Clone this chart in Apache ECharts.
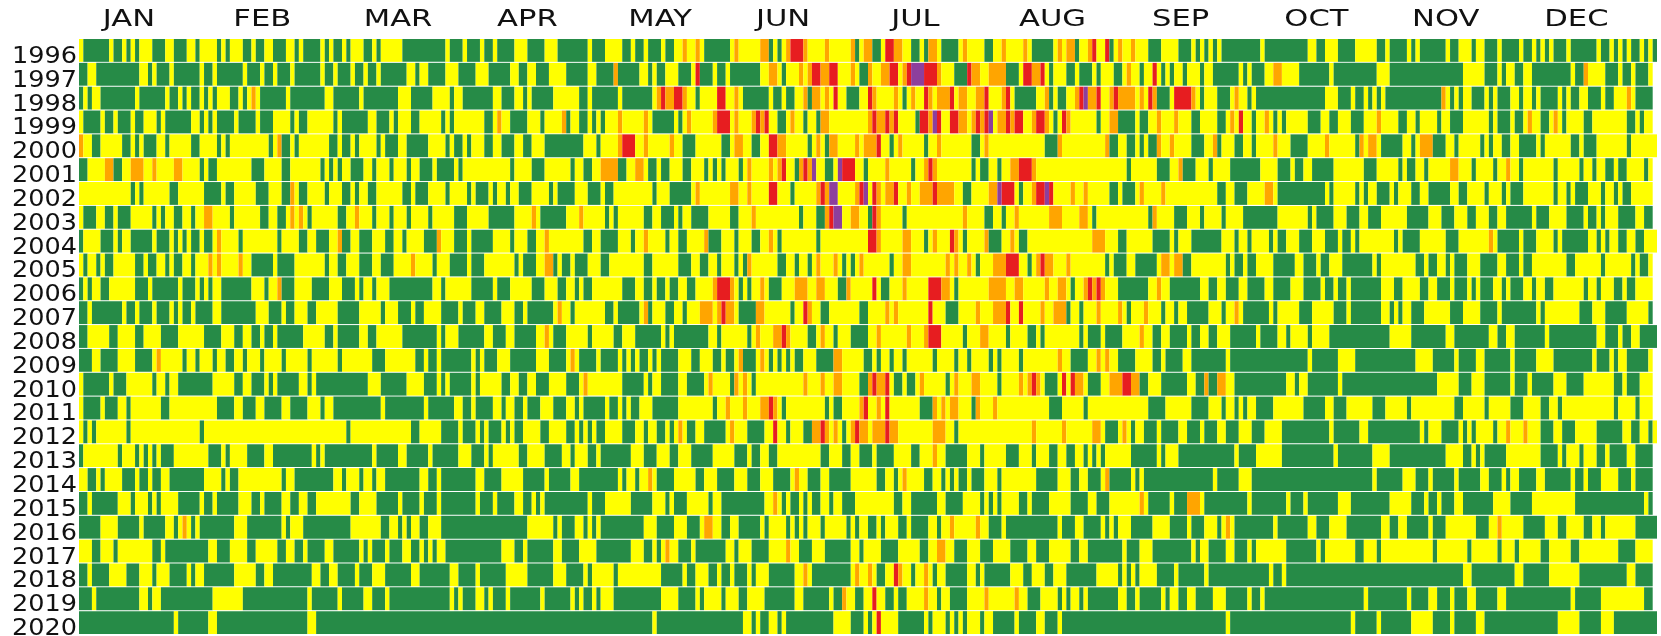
<!DOCTYPE html>
<html>
<head>
<meta charset="utf-8">
<style>
  html, body { margin: 0; padding: 0; background: #fff; }
  #chart { width: 1661px; height: 636px; }
</style>
<script src="https://cdn.jsdelivr.net/npm/echarts@6/dist/echarts.min.js"></script>
</head>
<body>
<div id="chart"></div>
<script>
const years = ['1996','1997','1998','1999','2000','2001','2002','2003','2004','2005','2006','2007','2008','2009','2010','2011','2012','2013','2014','2015','2016','2017','2018','2019','2020']
const months = ['JAN','FEB','MAR','APR','MAY','JUN','JUL','AUG','SEP','OCT','NOV','DEC']
const monthCenters = [11.6, 42.5, 74, 104, 134.8, 163.3, 194, 225.8, 255.5, 287, 317, 347.3]
const levels = ['g', 'y', 'o', 'r', 'p']
const levelColors = ['#268b47', '#ffff00', '#ffa500', '#e71d20', '#8d3f9c']

// each token: level letter + day of year where that level starts
const d1996 = 'y0 g1 y7 g8 y10 g11 y12 g13 y14 g17 y20 g22 y25 g27 y28 g32 y33 g34 y35 g38 y40 g41 y43 g45 y48 g50 y51 g52 y56 g57 y58 g59 y61 g62 y63 g66 y68 g69 y70 g75 y85 g86 y89 g90 y93 g94 y96 g97 y101 g104 y108 g111 y118 g119 y122 g126 y128 g129 y131 g132 y135 g136 y138 o140 y141 o143 y144 g145 y151 o152 y153 o158 g160 y161 g162 y163 o164 r165 o168 y169 o173 y174 o179 g180 y181 o182 g184 y186 r187 o189 y191 g193 y195 g196 o197 y199 g200 y204 o205 y206 g210 y212 o214 y215 o219 y220 g221 y226 o227 y228 o229 g231 y232 o234 r235 y236 r238 g239 y240 o241 y242 o244 y245 g248 y251 g255 y258 g259 y260 g261 y262 g263 y264 g265 y274 g275 y285 g287 y289 g292 y296 g301 y303 g304 y308 g309 y310 g311 y317 g318 y320 g323 y324 g326 y329 g330 y334 g335 y337 g338 y339 g340 y341 g342 y345 g346 y352 g353 y355 g356 y357 g358 y359 g360 y362 g363 y364 g365'
const d1997 = 'g0 y2 g4 y14 g16 y17 g18 y21 g22 y28 g29 y31 g32 y38 g39 y42 g43 y45 g46 y49 g50 y56 g57 y59 g60 y63 g64 y66 g67 y69 g70 y76 g78 y79 g81 y85 g88 y92 g95 y100 g102 y104 g106 y109 g113 y118 g120 o124 g125 y130 g132 y133 g134 y136 g139 y142 r143 g144 y147 g148 y150 g151 y158 o160 y162 g163 y164 o167 y168 o169 r170 o172 r174 y176 o179 y180 g181 o183 y184 o186 r188 y190 o191 r192 p193 r196 o199 y200 g203 r206 o207 y209 o211 g215 y218 r219 o221 r223 y224 g225 y226 g229 y231 g232 y235 g236 y237 g240 y242 o243 y244 g246 y247 r249 y250 g251 y252 g253 y254 g256 y257 g260 y261 g263 y269 g270 y271 g272 y275 o277 y279 g283 y290 g291 y301 g304 y321 g326 y329 g330 y331 g333 y335 g337 y346 g347 o349 y350 g354 y357 g358 y360 g361 y364'
const d1998 = 'g0 y1 g2 y3 g5 y13 g14 y20 g21 y23 g24 y25 g26 y28 g29 y30 g31 y32 g35 y37 g38 y39 o40 y41 g42 y48 g49 y57 g59 y65 g66 y74 g77 y82 g86 y87 g89 y96 g98 y101 g103 y104 g105 y110 g116 y118 g119 y125 g126 y133 o134 r135 o136 r138 o140 y141 g143 y144 r148 y150 o152 y153 g154 y160 g161 y163 g164 y166 o168 g169 o170 y172 o173 y174 r175 y176 g178 y181 r183 o184 y185 o189 y190 g191 y192 o193 y194 r196 o197 y198 o199 r202 y203 o204 y206 o208 r210 y211 o214 r215 y216 g217 y222 o224 g225 y226 g227 y229 o231 r232 p233 o234 r236 y237 o239 r240 o241 y245 o246 y247 r248 o249 g250 y253 r254 o258 y259 g260 y261 g264 y267 o268 y269 g271 y272 g273 y289 g292 y295 g296 y298 g299 y300 g301 y302 g303 o316 y317 g318 y319 g320 y321 g323 y326 g327 y328 g329 y332 g334 y335 g337 y338 g339 y343 g344 y345 g346 y348 g350 y353 g354 y356 o359 y360 g361'
const d1999 = 'y0 g1 y5 g6 y8 g9 y12 g13 y15 g18 y19 g20 y26 g28 y29 g30 y31 g32 y36 g37 y41 g42 y45 g49 y50 g51 y53 g59 y60 g61 y67 g69 y72 g73 y74 g77 y79 g84 y85 g86 y87 g94 y96 o97 y98 g100 y104 g107 y108 o112 g113 y114 g116 y118 g119 y120 g121 y122 o125 y126 o131 y132 g133 y138 g139 y140 o141 y142 o147 r148 y151 o152 y153 o156 r157 o158 r159 y160 g162 y164 o165 y166 g168 y169 g171 o172 y174 o183 r184 o185 r187 o188 r189 y190 g194 r195 o197 p198 r199 y200 r202 o204 y206 o207 r208 o209 r210 p211 y212 o213 r215 o216 r217 y219 o221 r222 o224 y225 g226 y227 r228 o229 y230 g236 y237 o239 g241 y245 g246 y248 o250 y251 o254 y255 g258 y260 g264 y266 o267 y268 r269 y270 g272 y273 o275 y276 g277 y278 g279 y280 g285 y288 g290 y292 g295 y298 o301 y302 g306 y308 g310 y311 g315 y316 g318 y321 g327 y328 g329 y332 g333 y335 o336 y337 g339 y341 o342 y343 g344 y345 g349 y351 g359 y361 g362 y363'
const d2000 = 'o0 y1 g3 y5 g10 y12 g13 y14 g15 y18 g20 y21 g26 y28 g32 y33 g34 y35 g44 y45 o46 g47 y49 g50 y51 g58 y60 g61 y63 g64 y65 g69 y70 g71 y74 g76 y81 g85 y86 g87 y89 g90 y91 g94 y96 g98 y101 g103 y105 g108 y117 g120 y121 o125 r126 y129 o131 y132 o137 y138 g140 y143 g149 y151 o152 y154 g156 y158 r160 o162 y164 g169 y170 o171 y172 g173 o174 y176 o180 y181 o182 r185 y186 g188 y189 o190 y191 g196 y197 o199 y200 g207 y209 o210 y211 g224 o227 y228 o238 g239 y241 g243 y245 g246 y247 g248 o250 y251 o253 y254 g258 y261 o263 g264 y265 g268 y270 g272 y273 o277 y278 g281 y285 o289 y290 g296 o297 y298 o299 y301 g302 y307 g309 y310 o311 g314 y317 g319 y320 g325 y326 g327 y328 g330 y332 g334 y338 g339 y340 g346 y348 g349 y352 g359 y360'
const d2001 = 'g0 y2 o6 g8 y10 o12 y15 o17 y18 o22 y24 g28 y29 g30 y32 g40 y43 g47 y49 g56 y57 g58 y59 g60 y61 g63 y66 g68 y69 g72 y73 g76 y77 g79 y82 g83 y87 g88 y89 g100 y101 g105 y108 g114 y115 g117 y119 o121 g125 y127 o129 y131 g132 y134 g135 y137 g140 y142 g145 y146 g147 y148 g149 y150 g153 y154 o155 y156 o160 y161 o162 r163 y164 g166 o167 r168 o169 p170 y171 g173 y175 p176 r177 y180 g182 y183 o187 y188 g193 y194 o196 r197 o198 y199 g207 y208 g209 y211 g213 y214 o216 r218 o221 y222 g243 y244 g250 y253 o255 g256 y259 g262 y263 g267 y274 g278 y281 g282 y284 g286 y291 g298 y301 g306 y307 g308 y310 g312 y313 o318 y320 g323 y324 g328 y329 o331 y332 g334 y335 g342 y343 g348 y349 g351 y352 g354 y356 g357 y359 g363 y364'
const d2002 = 'y0 g12 y13 g14 y15 g21 y23 g29 y33 g34 y36 g41 y44 g47 o49 y50 g51 y53 g57 y58 g61 y63 g64 y65 g67 y69 g75 y77 g78 y81 g85 y86 g90 y91 g92 y95 g96 y97 g99 y100 g102 y105 g109 y110 g111 y115 g118 y121 g122 y124 g133 y134 g137 y142 o143 y144 o151 y153 o155 y156 r160 y162 g165 y166 o171 r172 o173 p174 y176 o180 r181 p182 y183 r184 o185 y186 o187 r189 y190 o192 y193 o195 r198 o199 y203 g205 y207 o211 p213 r214 y217 g218 y219 o221 r222 p224 r225 y226 o230 y231 o233 y234 g239 y241 g242 y245 o246 y247 o251 y252 g264 y266 g268 y271 o275 y277 g278 y289 g290 y291 g296 y297 g298 y299 g301 y304 g305 y306 g309 y311 g313 y318 g320 y322 g326 y327 g330 y331 g332 y335 g342 y343 g345 y346 g347 y350 g353 y354 g356 y357 g358 y360'
const d2003 = 'y0 g1 y4 g6 y8 g9 y12 g17 y18 g19 y20 g22 y24 g26 y27 o29 y31 g35 y36 g42 y44 g46 y48 o49 y50 o51 y52 g53 y54 g60 y62 o64 y65 g68 y69 g72 y73 g76 y77 g81 y82 g87 y90 g95 y101 o105 y106 g107 y113 o116 y117 g122 y123 g124 y125 g131 y133 g135 y138 g139 y140 g142 y146 g151 y153 o156 y157 g167 y168 g171 o173 r174 p175 y177 o179 y181 g183 r184 o185 y186 g191 y192 o205 y206 g210 y212 g214 y215 o217 y218 o225 y228 o232 y234 g235 y236 g248 o249 y250 g254 y257 g260 y261 g265 y266 g270 y278 g285 y286 g287 y291 g294 y297 g299 y302 g308 y313 g316 y319 g322 y324 g327 y329 g331 y337 g338 y341 g345 y349 g350 y352 g353 y354 g357 y361 g363'
const d2004 = 'g0 y1 g5 y8 g9 y10 g12 y17 g18 y21 g22 y23 g24 y25 g26 y28 g29 y31 o32 y33 g37 y38 g46 y47 g51 y53 g55 y58 o60 g61 y63 g65 y68 g71 y73 g75 y76 g80 o83 y84 g87 y90 g91 y96 g100 y101 g104 y106 o108 y109 g117 y119 g121 y125 g128 y129 o131 y132 g136 y137 g139 y141 o145 g146 y149 g152 y153 g156 y158 o160 y161 g162 y163 g171 y172 r183 o185 y186 o191 y193 g196 y197 o198 y199 r202 o203 y204 g205 y206 o210 g211 y214 o216 y217 g218 y220 o235 y238 g241 y243 g249 y253 g254 y255 g258 y265 g268 y269 g271 y272 g276 y277 g278 y280 g283 y286 g289 y292 g293 y295 g296 y297 g305 y306 g307 y311 g317 y320 o327 y328 g329 y334 g335 y338 g342 y343 g344 y350 g352 y353 g354 y355 g357 y359 g361 y363'
const d2005 = 'y0 g1 y2 g4 y5 g6 y8 g13 y15 g16 y18 g20 y21 g22 y24 g26 y27 o30 y31 o32 y33 o37 y38 g40 y45 g46 y50 g57 y58 g60 y62 g65 y68 g70 y73 o77 y78 g82 y83 g86 y90 g91 y94 g101 y102 g103 y106 o108 g110 y111 g112 y114 g115 y118 g121 y123 g131 y133 g139 y142 g144 y146 g148 y149 g152 y153 g154 o155 y156 g162 y164 g166 y167 g169 y170 o171 y172 o175 y176 g177 y178 g179 y180 o181 y182 g188 y189 o191 y193 o201 y202 o203 y204 o206 y207 g208 y209 o212 r215 y218 g220 y221 o222 r223 o224 y226 o229 y230 g238 y239 g240 y243 g245 y250 o251 y253 o254 g256 y258 g266 y267 g268 y270 g271 y273 g277 y282 g284 y287 g288 y290 g293 y300 g301 y302 g310 y312 g313 y315 g317 y318 g319 y322 g325 y329 g331 y334 g335 y337 g345 y347 g353 y354 g360 y361 g362 y364'
const d2006 = 'g0 y1 g2 y3 g5 y7 g13 y16 g17 y23 g24 y27 g28 y29 g30 y31 g33 y40 g43 y44 o46 g47 y50 g54 y58 g61 y64 g65 y66 g68 y69 g72 y82 g84 y85 g91 y96 g97 y100 g105 y108 g111 y113 g115 y116 g117 y119 g126 y129 g131 y133 g134 y136 g137 y139 g141 y143 o147 r148 o151 y152 g153 y154 g155 y156 o158 y159 g160 y163 o166 y169 o171 y173 g176 o178 y179 r184 y185 g186 y188 o191 y192 r197 o200 y202 g203 y204 o211 y215 o217 y219 o224 y225 o227 y229 g230 y231 o233 r234 o235 r236 o237 y238 g241 y248 o250 y251 g253 y260 g262 y264 g266 y269 g271 y275 g277 y281 g284 y288 g289 y291 g292 y294 g295 y302 g305 y307 g311 y313 g315 y318 g319 y322 g323 y324 g325 y328 g330 y331 g332 y335 g337 y338 g340 y342 g349 y350 g352 y353 g356 y358 g359 y361'
const d2007 = 'g0 y2 g3 y10 g11 y13 g14 y17 g18 y21 g22 y23 g24 y26 g27 y31 g33 y41 g44 y47 g48 y50 g53 y55 g60 y65 g70 y71 g74 y77 g78 y80 g84 y88 g89 y92 g94 y98 g101 y103 g104 y110 o111 y112 g114 y115 g122 y124 g125 y130 o131 g132 y133 g136 y138 g140 y141 o144 y147 o148 r149 o150 y152 g153 o157 y159 g165 y166 r168 o169 y170 g172 y174 g181 y183 o187 y188 o189 y190 r197 y198 g201 y204 o208 y209 o212 r215 y216 r218 y219 o223 y224 o226 g229 y230 g232 y233 o236 y237 o241 y242 g243 y244 o247 y248 g251 y252 g254 y255 g257 y262 g265 y266 o268 y269 g270 y276 g277 y278 g283 y286 g291 y294 g295 y302 g304 y305 g306 y307 g309 y312 g318 y321 g325 y329 g330 y338 g339 y340 g348 y351 g354 y359 g364'
const d2008 = 'g0 y2 g7 y9 g13 y15 g19 y23 g29 y33 g36 y38 g40 y42 g43 y45 g46 y52 g57 y59 g60 y65 g67 y69 g75 y83 g84 y85 g88 y94 g96 y99 g101 y106 o108 y109 g110 y113 g118 y119 g124 y126 g129 y135 g136 y137 g138 y146 g148 y149 g155 y156 o157 y158 o161 r163 o164 y165 g169 y171 o172 y173 g175 y176 g179 y183 o185 y186 o192 y193 o196 r197 y200 g205 y206 o209 y211 g215 y216 g220 y222 g223 y224 g232 y233 g234 y237 g238 y242 o246 y247 g249 y251 g253 y257 g258 y260 g262 y264 g267 y273 g274 y278 g280 y281 g285 y286 g290 y304 g309 y317 g319 y327 g329 y331 g333 y340 g341 y352 g354 y357 g358 y360 g362'
const d2009 = 'g0 y3 g5 y9 g13 y17 o18 y19 g24 y25 g27 y28 g31 y32 g34 y36 g38 y39 g42 y43 g47 y48 g53 y54 g60 y61 g68 y71 g78 y80 g81 y83 g84 y91 g92 y93 g94 y97 g100 y106 g109 y113 o114 y115 g116 y120 g121 y125 g126 y127 g128 y129 g130 y132 g133 y134 g135 y139 g142 y144 g147 y149 g150 y152 o153 g154 y157 o158 y159 g160 y161 g162 y163 g164 y165 g166 y168 g171 o175 y177 g182 y184 g185 y186 g188 y189 g191 y192 g198 y199 g203 y204 g206 y207 g211 y212 g213 y214 g218 y219 o227 y228 g230 y234 o236 y237 o238 y239 g241 y245 g249 y251 g252 y256 g258 y266 g267 y285 g286 y292 g296 y310 g314 y319 g320 y324 g326 y332 g333 y338 g342 y351 g352 y355 g356 y357 g359 y364'
const d2010 = 'y0 g1 y7 g8 y11 g17 y18 g20 y21 g23 y31 g36 y38 g40 y43 g44 y45 g46 y51 g53 y54 g55 y67 g70 y76 g80 y83 g84 y85 g86 y91 g92 y93 g98 y100 g102 y104 g106 y109 g113 y116 o117 y118 g126 y131 g132 y133 g135 y139 g141 y145 o146 y147 g151 o152 y153 o154 y155 g156 y157 o168 y169 o172 y173 o175 y177 g181 o183 r184 o185 r187 y188 g189 y191 g192 y194 o195 y196 g201 y202 o203 y204 o207 y209 g213 y214 o218 y219 o220 r221 o222 y223 g224 y227 r228 y229 r230 o231 y233 g234 y237 o239 r242 o244 g246 y248 g251 y257 g259 o261 g262 o264 y266 g268 y280 g282 y283 g285 y292 g293 y315 g320 y323 g326 y332 g333 y336 g337 y342 g345 y349 g356 y358 g359 y362'
const d2011 = 'y0 g1 y5 g6 y9 g11 y12 g19 y21 g32 y36 g38 y41 g43 y47 g49 y53 g56 y57 g59 y70 g71 y80 g81 y87 g89 y91 g92 y96 g98 y99 g101 y103 g104 y107 g110 y113 g115 y116 g117 y122 g123 y125 g126 y127 g128 y130 g133 y139 g147 y148 o150 y151 o154 y155 o158 r160 o161 y162 g163 y164 g173 y174 g175 y177 o181 r182 y183 o185 y186 r187 y188 g195 o198 y199 o200 y201 o202 y204 g207 o208 y209 o212 y213 g225 y228 g233 y234 g248 y252 g258 y262 g265 y266 g268 y269 g270 y271 g273 y277 g284 y289 g291 y294 g300 y303 g308 y309 g319 y321 g326 y327 g332 y335 g339 y341 g343 y344 g356 y357 g361 y362'
const d2012 = 'y0 g1 y2 g3 y4 g11 y12 g28 y29 g62 y63 g77 y79 g84 y88 g89 y92 g93 y94 g95 y98 g99 y100 g101 y103 g107 y109 g113 y115 g116 y117 g118 y119 g120 y122 g126 y129 g131 y132 g134 y136 g137 y138 o139 y140 g141 y143 g145 y150 o151 y152 g155 y159 r161 y162 g164 y165 g168 o170 r172 o173 y174 o175 y176 g177 y178 o179 r180 o181 y183 o184 r187 o188 y190 o198 y201 g203 y204 o221 y222 o228 y229 o235 y237 g238 y241 o242 y243 g244 y245 g247 y250 g251 y255 g257 y260 g261 y264 g266 y269 g272 y275 g279 y290 g291 y297 g299 y311 g312 y313 g316 y320 g321 y322 g323 y324 g328 y329 o331 y332 o335 y336 g339 y342 g344 y347 g352 y358 g360 y362 g364 y365'
const d2013 = 'g0 y1 g9 y10 g13 y14 g15 y16 g17 y18 g19 y22 g30 y33 g34 y35 g39 y43 g45 y54 g55 y56 g57 y68 g69 y74 g76 y81 g82 y88 g91 y94 g95 y96 g102 y104 g108 y112 g114 y115 g118 y120 g121 y128 g131 y134 g137 y139 g142 y147 g152 y155 g156 y158 g160 y162 g172 y174 g177 y179 g181 y184 g185 y189 g193 y195 o198 y199 g201 y206 g209 y210 g215 y218 g221 y222 g225 y227 g229 y231 g233 y234 g235 y236 g237 y238 g244 y250 g251 y252 g255 y268 g269 y273 g279 y291 g292 y300 g304 y317 g321 y323 g324 y325 g326 y331 g339 y343 g344 y345 g348 y349 g352 y354 g355 y359 g361'
const d2014 = 'y0 g2 y4 g5 y6 g10 y13 g14 y16 g17 y19 g21 y29 g33 y34 g35 y37 g47 y48 g50 y59 g61 y62 g65 y66 g68 y69 g71 y79 g81 y83 g84 y92 g94 y98 g103 y108 g109 y114 g116 y125 g126 y127 g129 y130 o132 y133 g134 y138 g143 y145 g148 y152 g155 y158 g161 y165 o166 y167 g169 y172 g174 y179 g185 y187 g189 y190 o191 y192 g196 y198 g200 y201 g202 y203 g204 y206 g207 y210 g213 y214 g222 y227 g230 y232 g234 y237 o238 g239 y244 g245 y246 g247 y263 g264 y269 g272 y300 g301 y307 g310 y313 g314 y319 g320 y325 g327 y330 g331 y332 g334 y338 g340 y346 g347 y349 g350 y353 g357 y360 g361'
const d2015 = 'g0 y2 g3 y9 g12 y13 g16 y17 g18 y19 g23 y28 g29 y31 g32 y37 g40 y42 g43 y47 g49 y51 g53 y55 g63 y65 g69 y74 g75 y79 g80 y83 g84 y92 g93 y96 g97 y101 g103 y105 g106 y107 g108 y118 g119 y122 g128 y133 g136 y137 g138 y141 g146 y147 g149 y159 o161 y162 g163 y164 g165 y167 g168 y169 g170 y172 g174 y175 g177 y180 g189 y191 g193 y199 g201 y205 g209 y210 g211 y212 g213 y214 g218 y220 g221 y225 g230 y234 g236 y239 o246 y247 g248 y253 g254 o257 y260 g261 y271 g272 y280 g281 y284 g285 y292 g295 y304 g309 y312 g313 y315 g316 y319 g321 y328 g332 y337 g347 y363 g364'
const d2016 = 'g0 y5 g9 y14 g15 y20 g22 y23 o24 y25 g26 y27 g28 y36 g39 y47 g48 y49 g52 y63 g70 y72 g74 y75 g76 y77 g79 y81 g84 y104 g110 y111 g112 y115 g117 y118 g119 y120 g121 y131 g134 y138 g141 y144 o145 y147 g149 y151 g153 y158 g159 y160 g164 y165 g166 y167 g168 y169 g172 y173 g178 y179 g180 y181 g183 y185 g186 y187 g190 y192 g193 y197 g199 y200 o202 y203 o208 y209 g211 y214 g215 y227 g228 y231 g233 y237 g238 y239 g240 y241 g244 y249 g253 y257 g258 y261 g264 y265 o266 y267 g268 y277 g278 y285 g287 y290 g294 y302 g304 y306 g308 y313 g314 y317 g324 y327 o329 y330 g335 y340 g343 y345 g349 y351 g353 y354 g361'
const d2017 = 'y0 g3 y5 g8 y9 g17 y19 g20 y30 g32 y35 g39 y41 g46 y48 g50 y52 g53 y57 g59 y65 g66 y67 g68 y71 g72 y75 g77 y79 g80 y81 g82 y83 g85 y98 g101 y103 g104 y110 g112 y116 g120 y128 g131 y133 g134 y135 o136 y137 g139 y142 g143 y150 g152 y153 g156 y160 o164 y165 g167 y170 g173 y179 g181 y182 g186 y190 g195 y197 o199 y201 g203 y206 g209 y212 g216 y220 g222 y225 g230 y232 g234 y242 g243 y246 g249 y258 g259 y260 g262 y266 g268 y271 g272 y273 g280 y287 g288 y289 g296 y298 g301 y302 g314 y315 g322 y323 g329 y330 g333 y334 g339 y341 g346 y348 g357 y361'
const d2018 = 'g0 y2 g3 y7 g11 y14 g17 y18 g21 y25 g26 y27 g29 y36 g41 y43 g45 y54 g56 y58 g60 y64 g65 y68 g71 y77 g79 y86 g88 y92 g93 y99 g104 y110 g113 y117 g118 y119 g124 y125 g135 y140 g141 y143 g146 y148 g149 y151 g152 y155 g156 y157 g160 y166 o168 y169 g170 y179 o180 y181 o183 y184 g185 y187 r189 o190 y191 g193 y194 o196 y197 g198 y199 g201 y206 g208 y209 g210 y216 g219 y221 g224 y226 g229 y236 g241 y242 g243 y244 g245 y246 g250 y254 g255 y261 g262 y276 g277 y279 g280 y321 g323 y333 g335 y341 g348 y359 g361'
const d2019 = 'g0 y3 g4 y14 g16 y17 g19 y31 g38 y53 g54 y60 g61 y66 g68 y71 g72 y86 g87 y88 g89 y92 g94 y95 g96 y99 g100 y107 g108 y114 g115 y116 g117 y119 g120 y121 g124 y135 g139 y143 g144 y145 g149 y150 g153 y155 g159 y166 g168 y174 g175 o177 y178 g180 y182 r184 y185 g187 y189 g190 y192 o196 y197 g199 y200 g202 y206 o210 y211 o217 y218 g220 y223 g227 y228 g229 y230 g232 y233 g234 y241 g243 y245 g246 y251 g252 y253 g255 y257 g259 y263 g266 y271 g272 y274 g275 y298 g299 y308 g309 y313 g315 y318 g319 y322 g324 y329 g331 y346 g347 y353 g363'
const d2020 = 'g0 y22 g23 y30 g32 y53 g55 y133 g134 y154 g156 y157 g158 y160 g162 y163 g164 y175 g179 y182 g183 y184 r185 y186 g190 y196 g197 y198 g201 y202 g203 y204 g205 y206 g209 y210 g212 y217 g218 y222 g224 y227 g228 y266 g267 y295 g296 y301 g302 y309 g314 y318 g319 y324 g326 y343 g348 y353 g356'

const rows = [d1996, d1997, d1998, d1999, d2000, d2001, d2002, d2003, d2004, d2005, d2006, d2007, d2008, d2009, d2010, d2011, d2012, d2013, d2014, d2015, d2016, d2017, d2018, d2019, d2020]

const runs = []
rows.forEach((row, r) => {
  const tokens = row.split(' ')
  const leap = Number(years[r]) % 4 === 0
  tokens.forEach((t, i) => {
    const start = Number(t.slice(1))
    const end = i + 1 < tokens.length ? Number(tokens[i + 1].slice(1)) : (leap ? 366 : 365)
    runs.push([start, end, r, levels.indexOf(t[0])])
  })
})

const chart = echarts.init(document.getElementById('chart'), null, { renderer: 'canvas' })

chart.setOption({
  animation: false,
  backgroundColor: '#ffffff',
  grid: { left: 79, right: 4, top: 39, bottom: 1 },
  xAxis: { type: 'value', min: 0, max: 366, show: false },
  yAxis: {
    type: 'category',
    data: years,
    inverse: true,
    axisLine: { show: false },
    axisTick: { show: false },
    splitLine: { show: false },
    axisLabel: { show: false }
  },
  series: [
    {
      type: 'custom',
      data: runs,
      encode: { x: [0, 1], y: 2 },
      renderItem(params, api) {
        const a = api.coord([api.value(0), api.value(2)])
        const b = api.coord([api.value(1), api.value(2)])
        const h = api.size([0, 1])[1]
        return {
          type: 'rect',
          shape: { x: a[0], y: a[1] - h / 2, width: b[0] - a[0], height: h - 1 },
          style: { fill: levelColors[api.value(3)] }
        }
      }
    },
    {
      // month names sit above the first row, stretched wide like the original
      type: 'custom',
      data: monthCenters.map((d, i) => [d, i]),
      encode: { x: 0 },
      silent: true,
      renderItem(params, api) {
        const p = api.coord([api.value(0), 0])
        return {
          type: 'text',
          x: p[0],
          y: p[1] - 31,
          scaleX: 1.33,
          style: {
            text: months[api.value(1)],
            fill: '#111111',
            font: '23px "DejaVu Sans"',
            align: 'center',
            verticalAlign: 'middle'
          }
        }
      }
    },
    {
      // year labels, right aligned against the grid
      type: 'custom',
      data: years.map((y, i) => [0, i]),
      encode: { x: 0, y: 1 },
      silent: true,
      renderItem(params, api) {
        const p = api.coord([0, api.value(1)])
        return {
          type: 'text',
          x: p[0] - 2,
          y: p[1] + 6,
          scaleX: 1.11,
          style: {
            text: years[api.value(1)],
            fill: '#111111',
            font: '23px "DejaVu Sans"',
            align: 'right',
            verticalAlign: 'middle'
          }
        }
      }
    }
  ]
})
</script>
</body>
</html>
